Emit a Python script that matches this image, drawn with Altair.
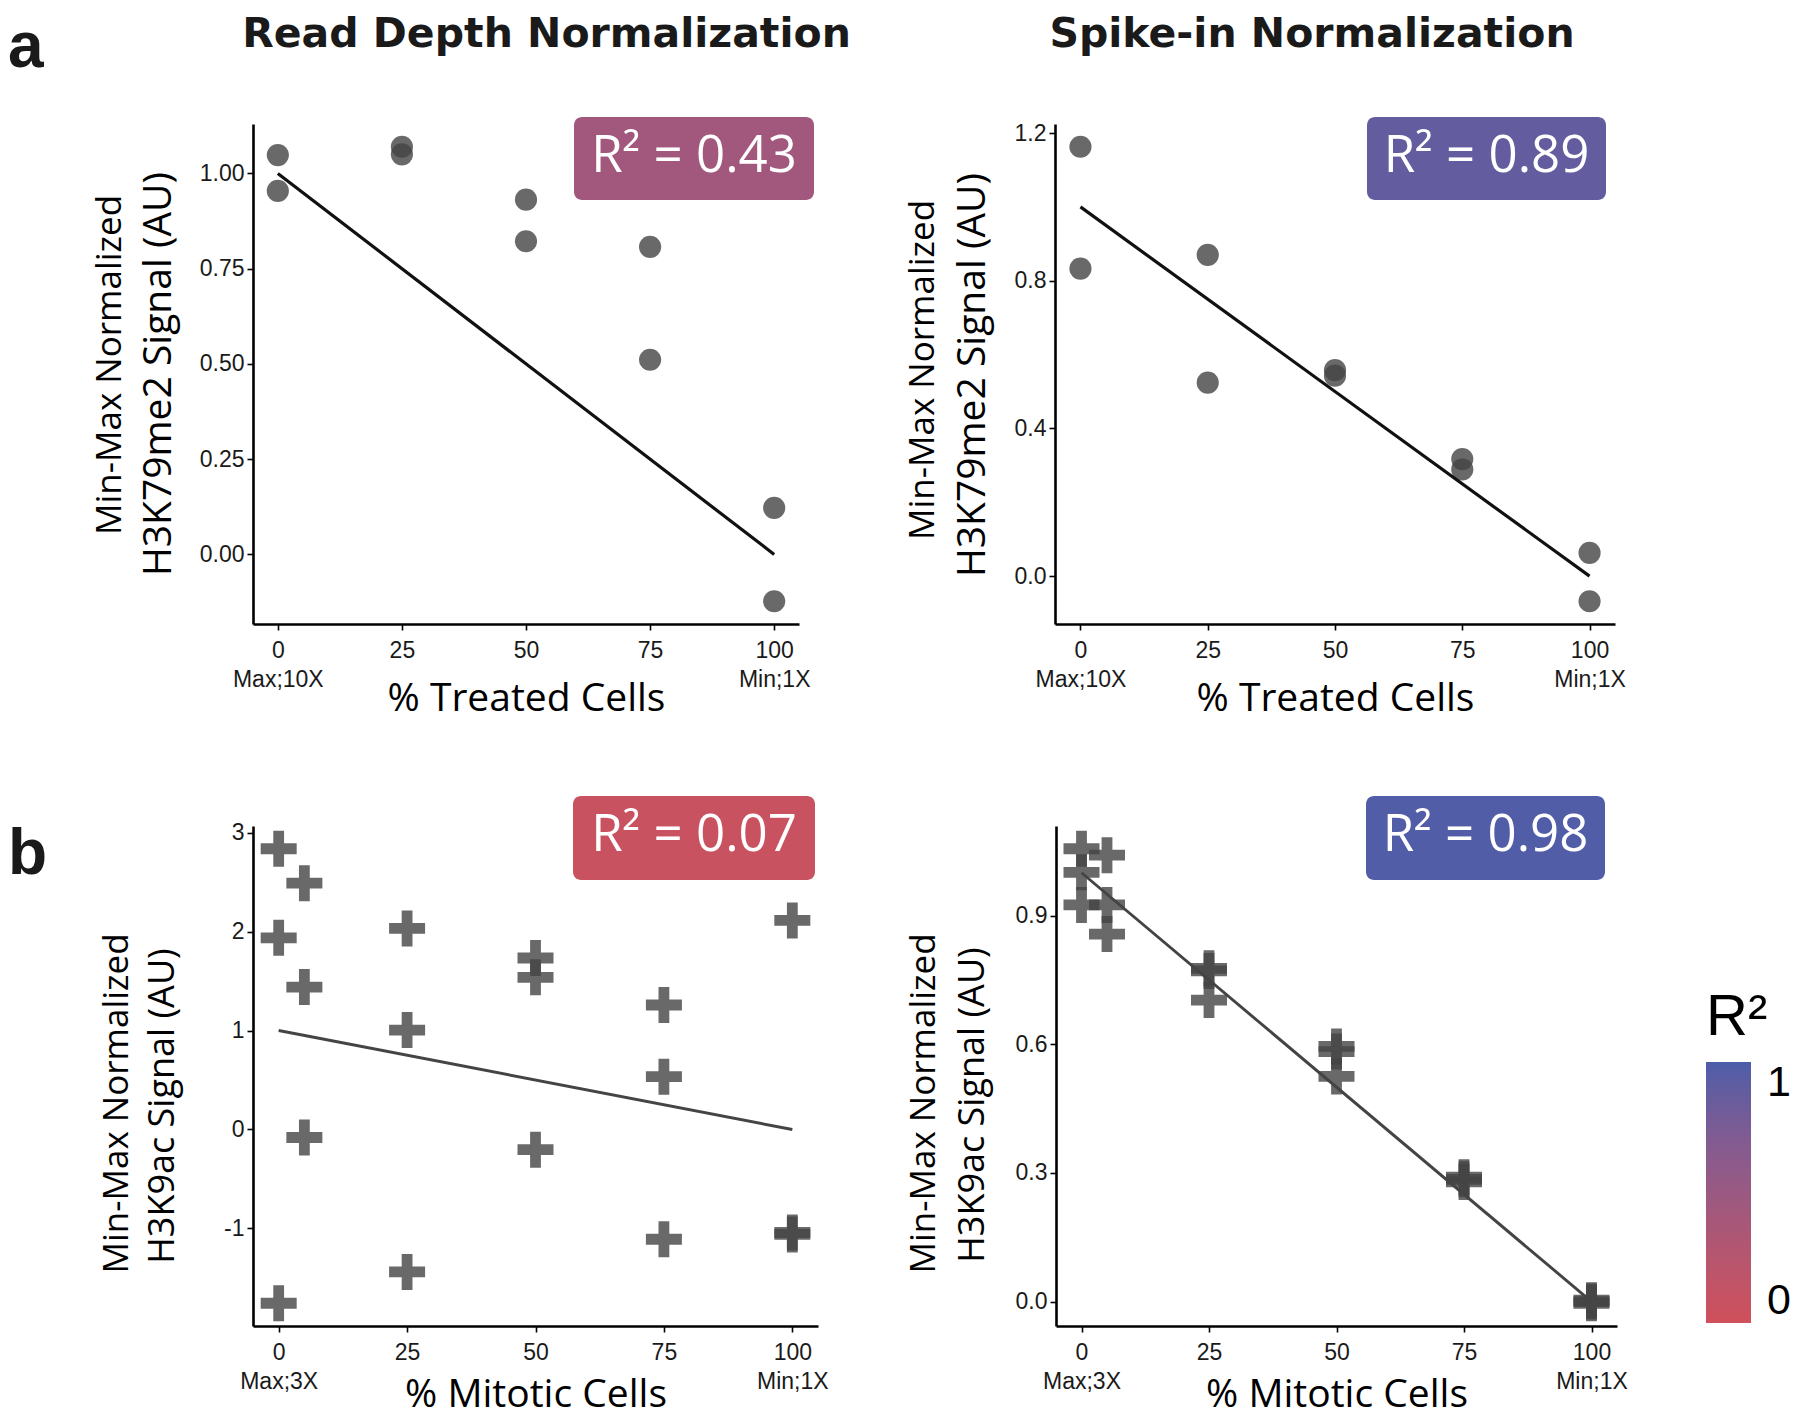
from __future__ import annotations

import altair as alt
import pandas as pd

# ---- data ---------------------------------------------------------------
# panel a: H3K79me2 (circles), % treated cells
A_X = [0, 0, 25, 25, 50, 50, 75, 75, 100, 100]
A_READ_DEPTH = [1.048, 0.954, 1.070, 1.050, 0.931, 0.822, 0.807, 0.511, 0.122, -0.123]
A_SPIKE_IN = [1.163, 0.833, 0.870, 0.524, 0.558, 0.543, 0.317, 0.289, 0.063, -0.068]

# panel b: H3K9ac (crosses), % mitotic cells
B_X = [0, 0, 0, 5, 5, 5, 25, 25, 25, 50, 50, 50, 75, 75, 75, 100, 100, 100]
B_READ_DEPTH = [2.837, 1.937, -1.756, 2.489, 1.439, -0.081, 2.032, 1.005, -1.439,
                1.733, 1.538, -0.204, 1.258, 0.534, -1.109, 2.113, -1.041, -1.060]
B_SPIKE_IN = [1.056, 1.001, 0.925, 1.041, 0.925, 0.857, 0.777, 0.771, 0.703,
              0.595, 0.583, 0.525, 0.290, 0.279, 0.285, 0.003, 0.000, -0.004]

# expected signal: max at 0 %, min at 100 %
IDEAL_X = [0, 100]
IDEAL_Y = [1, 0]

R2_VALUES = [0.43, 0.89, 0.07, 0.98]
HEADERS = ["Read Depth Normalization", "Spike-in Normalization"]

X_TICKS = [0, 25, 50, 75, 100]
A_ENDS = ["Max;10X", "Min;1X"]
B_ENDS = ["Max;3X", "Min;1X"]
Y_TICKS_A_READ = [0, 0.25, 0.5, 0.75, 1.0]
Y_TICKS_A_SPIKE = [0, 0.4, 0.8, 1.2]
Y_TICKS_B_READ = [-1, 0, 1, 2, 3]
Y_TICKS_B_SPIKE = [0, 0.3, 0.6, 0.9]

# ---- style ---------------------------------------------------------------
SANS = "Open Sans"
AXIS_FONT = "Liberation Sans"
HEAD_FONT = "DejaVu Sans"
GREY = "#444444"
RED = "#D0505B"
BLUE = "#4D5DA9"
CROSS = "M-1,-0.3H-0.3V-1H0.3V-0.3H1V0.3H0.3V1H-0.3V0.3H-1Z"

R2_SCALE = alt.Scale(domain=[0, 1], range=[RED, BLUE], interpolate="lab")
R2_LEGEND = alt.Legend(
    title="R²",
    orient="none",
    legendX=1453,
    legendY=865,
    direction="vertical",
    values=[0, 1],
    format="d",
    gradientLength=261,
    gradientThickness=45,
    titleFontSize=58,
    titlePadding=15,
    labelFontSize=43,
    labelOffset=16,
)


def _text(text, x, y, **style):
    return (
        alt.Chart(pd.DataFrame({"t": [text]}))
        .mark_text(**style)
        .encode(text="t:N", x=alt.value(x), y=alt.value(y))
    )


def panel(xs, ys, r2, lay, *, circles, y_ticks, y_format, x_title, x_ends, y_lines):
    lo, hi = min(ys), max(ys)
    pad = 0.05 * (hi - lo)
    pts = pd.DataFrame({"x": xs, "y": ys})

    x_enc = alt.X(
        "x:Q",
        scale=alt.Scale(domain=[-5, 105], nice=False, zero=False),
        axis=alt.Axis(
            values=X_TICKS,
            labelExpr=(
                f"datum.value == 0 ? ['0', '{x_ends[0]}'] : "
                f"datum.value == 100 ? ['100', '{x_ends[1]}'] : datum.label"
            ),
            labelLineHeight=29,
            labelPadding=9,
            labelFlush=False,
            title=x_title,
            titleY=lay["title_y"],
            titleBaseline="alphabetic",
        ),
    )
    y_enc = alt.Y(
        "y:Q",
        scale=alt.Scale(domain=[lo - pad, hi + pad], nice=False, zero=False),
        axis=alt.Axis(
            values=y_ticks,
            format=y_format,
            labelExpr="replace(datum.label, '\u2212', '-')",
            labelPadding=3,
            title=None,
        ),
    )

    if circles:
        base = alt.Chart(pts).mark_circle(size=490, color=GREY, opacity=0.8)
        line = dict(color="#111111", strokeWidth=3.2)
    else:
        base = alt.Chart(pts).mark_point(
            shape=CROSS, filled=True, size=1296, color=GREY, opacity=0.8, strokeWidth=0
        )
        line = dict(color="#444444", strokeWidth=2.9)
    points = base.encode(x=x_enc, y=y_enc)

    ideal = (
        alt.Chart(pd.DataFrame({"x": IDEAL_X, "y": IDEAL_Y}))
        .mark_line(**line)
        .encode(x="x:Q", y="y:Q")
    )

    x1, y1, x2, y2 = lay["box"]
    box = (
        alt.Chart(pd.DataFrame({"r2": [r2]}))
        .mark_rect(cornerRadius=8)
        .encode(
            x=alt.value(x1), x2=alt.value(x2),
            y=alt.value(y1), y2=alt.value(y2),
            color=alt.Color("r2:Q", scale=R2_SCALE, legend=R2_LEGEND),
        )
    )
    box_label = _text(
        f"R² = {r2:.2f}", (x1 + x2) / 2, (y1 + y2) / 2 - 2,
        font=SANS, fontSize=51, color="white", baseline="middle",
    )

    layers = [points, ideal, box, box_label]
    for text, size, tx, ty in y_lines:
        layers.append(_text(text, tx, ty, font=SANS, fontSize=size, angle=270,
                            baseline="middle", color="black"))
    if "header" in lay:
        text, hx = lay["header"]
        layers.append(_text(text, hx, -77, font=HEAD_FONT, fontSize=41,
                            fontWeight="bold", baseline="alphabetic", color="#1a1a1a"))
    if "letter" in lay:
        text, lx, ly = lay["letter"]
        layers.append(_text(text, lx, ly, font=AXIS_FONT, fontSize=64, fontWeight="bold",
                            align="left", baseline="alphabetic", color="#1a1a1a"))

    return alt.layer(*layers).properties(width=lay["width"], height=lay["height"])


a_read = panel(
    A_X, A_READ_DEPTH, R2_VALUES[0],
    dict(width=546, height=500, box=(321, -7, 561, 76), title_y=86,
         header=(HEADERS[0], 293.5), letter=("a", -245, -57)),
    circles=True, y_ticks=Y_TICKS_A_READ, y_format=".2f",
    x_title="% Treated Cells", x_ends=A_ENDS,
    y_lines=[("Min-Max Normalized", 35, -143, 241),
             ("H3K79me2 Signal (AU)", 39, -94, 250)],
)
a_spike = panel(
    A_X, A_SPIKE_IN, R2_VALUES[1],
    dict(width=560, height=500, box=(312, -7, 551, 76), title_y=86,
         header=(HEADERS[1], 257)),
    circles=True, y_ticks=Y_TICKS_A_SPIKE, y_format=".1f",
    x_title="% Treated Cells", x_ends=A_ENDS,
    y_lines=[("Min-Max Normalized", 35, -132.5, 246),
             ("H3K79me2 Signal (AU)", 39, -82.5, 251)],
)
b_read = panel(
    B_X, B_READ_DEPTH, R2_VALUES[2],
    dict(width=565, height=500, box=(320, -30, 562, 54), title_y=80,
         letter=("b", -245, 48)),
    circles=False, y_ticks=Y_TICKS_B_READ, y_format="d",
    x_title="% Mitotic Cells", x_ends=B_ENDS,
    y_lines=[("Min-Max Normalized", 35, -136.5, 277.5),
             ("H3K9ac Signal (AU)", 36, -90, 280)],
)
b_spike = panel(
    B_X, B_SPIKE_IN, R2_VALUES[3],
    dict(width=561, height=500, box=(310, -30, 549, 54), title_y=80),
    circles=False, y_ticks=Y_TICKS_B_SPIKE, y_format=".1f",
    x_title="% Mitotic Cells", x_ends=B_ENDS,
    y_lines=[("Min-Max Normalized", 35, -132, 277.5),
             ("H3K9ac Signal (AU)", 36, -83.5, 279)],
)

chart = (
    alt.vconcat(
        alt.hconcat(a_read, a_spike, spacing=54),
        alt.hconcat(b_read, b_spike, spacing=78),
        spacing=78,
    )
    .properties(padding={"left": 0, "top": 6, "right": 0, "bottom": 3})
    .configure_view(strokeWidth=0)
    .configure_axis(
        grid=False,
        domainColor="black",
        domainWidth=2.6,
        tickColor="black",
        tickWidth=1.6,
        tickSize=6,
        labelFont=AXIS_FONT,
        labelFontSize=23,
        labelColor="#1a1a1a",
        titleFont=SANS,
        titleFontSize=39,
        titleFontWeight="normal",
        titleColor="black",
    )
    .configure_legend(
        padding=0,
        gradientStrokeWidth=0,
        titleFont=AXIS_FONT,
        titleFontWeight="normal",
        titleColor="black",
        labelFont=AXIS_FONT,
        labelColor="black",
    )
)

chart.save("out.html", embed_options={"renderer": "svg", "actions": False})
